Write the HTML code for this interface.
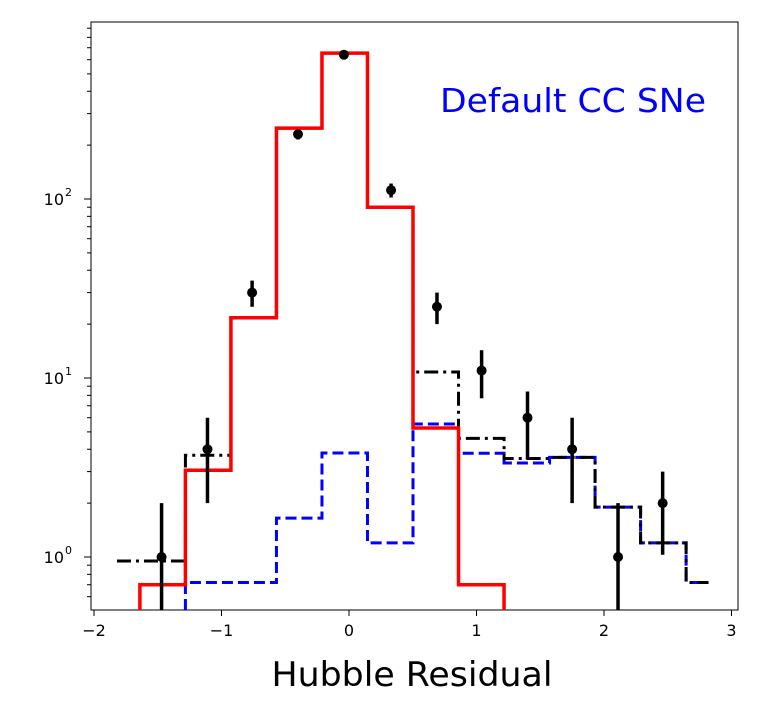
<!DOCTYPE html>
<html><head><meta charset="utf-8"><style>
body{margin:0;background:#fff;font-family:"DejaVu Sans","Liberation Sans",sans-serif}
</style></head><body>
<svg id="chart" width="776" height="704" viewBox="0 0 776 704" xmlns="http://www.w3.org/2000/svg" font-family="DejaVu Sans, Liberation Sans, sans-serif">
<rect x="91" y="22" width="647" height="588" fill="#fff" stroke="#000" stroke-width="1"/>
<g id="marks"></g>
<g id="axes"></g>
<text x="573" y="112" text-anchor="middle" font-size="33" fill="#0000ff" textLength="266" lengthAdjust="spacingAndGlyphs">Default CC SNe</text>
<text x="412" y="686" text-anchor="middle" font-size="34" fill="#000" textLength="281" lengthAdjust="spacingAndGlyphs">Hubble Residual</text>
</svg>
<script>
const binStart = -1.64, binWidth = 0.357;
const redVals = [0.7, 3.05, 21.7, 249, 653, 90, 5.26, 0.7];
const blackVals = [0.95, 3.7, 21.7, 249, 653, 90, 10.8, 4.6, 3.55, 3.6, 1.9, 1.2, 0.72];
const blueVals = [0.72, 0.72, 1.65, 3.81, 1.2, 5.53, 3.8, 3.35, 3.6, 1.9, 1.2, 0.72];
const ptCenters = [-1.47, -1.11, -0.76, -0.40, -0.04, 0.33, 0.69, 1.04, 1.40, 1.75, 2.11, 2.46];
const ptVals = [1, 4, 30, 230, 640, 112, 25, 11, 6, 4, 1, 2];
const ptLo = [0.3, 2, 25, 215, 615, 102, 20, 7.7, 3.5, 2, 0.3, 1.03];
const ptHi = [2, 6, 35, 245, 665, 122, 30, 14.3, 8.4, 6, 2, 3];
const xTicks = [-2, -1, 0, 1, 2, 3];
const yTicks = [0, 1, 2];
const X = v => 349 + v * 127.5;
const Y = v => 557 - Math.log10(v) * 179;
const BOT = 610, NS = 'http://www.w3.org/2000/svg';
const marks = document.getElementById('marks'), axes = document.getElementById('axes');
function mk(tag, attrs, parent) {
  const e = document.createElementNS(NS, tag);
  for (const k in attrs) e.setAttribute(k, attrs[k]);
  parent.appendChild(e); return e;
}
function stepPath(vals, start, k0, end, fromBottom, toBottom) {
  const edges = [start];
  for (let i = 1; i < vals.length; i++) edges.push(binStart + (k0 + i - 1) * binWidth);
  edges.push(end);
  let d = fromBottom ? `M${X(edges[0])},${BOT} L${X(edges[0])},${Y(vals[0])}` : `M${X(edges[0])},${Y(vals[0])}`;
  vals.forEach((v, i) => { d += ` L${X(edges[i])},${Y(v)} L${X(edges[i + 1])},${Y(v)}`; });
  if (toBottom) d += ` L${X(edges[edges.length - 1])},${BOT}`;
  return d;
}
let p = mk('path', {d: stepPath(blueVals, binStart + binWidth, 2, 2.82, true, false), fill: 'none', stroke: '#0000ff', 'stroke-width': 3, 'stroke-dasharray': '11,5'}, marks);


p = mk('path', {d: stepPath(blackVals, -1.82, 1, 2.82, false, false), fill: 'none', stroke: '#000', 'stroke-width': 3, 'stroke-dasharray': '14,5,3,5'}, marks);


p = mk('path', {d: stepPath(redVals, binStart, 1, binStart + redVals.length * binWidth, true, true), fill: 'none', stroke: '#ff0000', 'stroke-width': 3.5}, marks);


ptCenters.forEach((c, i) => {
  const g = mk('g', {}, marks);
  
  
  mk('line', {x1: X(c), x2: X(c), y1: Math.min(BOT, Y(ptLo[i])), y2: Y(ptHi[i]), stroke: '#000', 'stroke-width': 3.5}, g);
  mk('circle', {cx: X(c), cy: Y(ptVals[i]), r: 5, fill: '#000'}, g);
});
xTicks.forEach(t => {
  const g = mk('g', {}, axes);
  
  
  mk('line', {x1: X(t), x2: X(t), y1: BOT, y2: BOT + 6, stroke: '#000', 'stroke-width': 1}, g);
  const tx = mk('text', {x: X(t), y: BOT + 26, 'text-anchor': 'middle', 'font-size': 16, fill: '#000'}, g);
  tx.textContent = (t < 0 ? '\u2212' : '') + Math.abs(t);
});
yTicks.forEach(e => {
  const g = mk('g', {}, axes);
  
  
  const y = Y(Math.pow(10, e));
  mk('line', {x1: 91, x2: 84, y1: y, y2: y, stroke: '#000', 'stroke-width': 1}, g);
  const tx = mk('text', {x: 64, y: y + 6, 'text-anchor': 'end', 'font-size': 16, fill: '#000'}, g);
  tx.textContent = '10';
  const sup = mk('text', {x: 65, y: y - 3, 'text-anchor': 'start', 'font-size': 11, fill: '#000'}, g);
  sup.textContent = String(e);
});
for (let e = -1; e <= 2; e++) for (let m = 2; m <= 9; m++) {
  const v = m * Math.pow(10, e), y = Y(v);
  if (y < 22 || y > BOT) continue;
  const l = mk('line', {x1: 91, x2: 87, y1: y, y2: y, stroke: '#000', 'stroke-width': 1}, axes);
  
  
}
</script>
</body></html>
